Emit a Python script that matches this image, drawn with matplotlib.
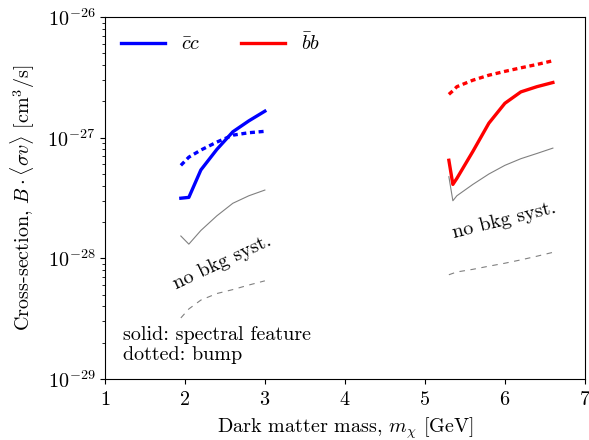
import matplotlib
matplotlib.use("Agg")
import matplotlib.pyplot as plt
import numpy as np

plt.rcParams['font.family'] = 'serif'
plt.rcParams['font.serif'] = ['cmr10']
plt.rcParams['mathtext.fontset'] = 'cm'
plt.rcParams['axes.formatter.use_mathtext'] = True
plt.rcParams['axes.unicode_minus'] = False

FS = 14.5

# cc channel
cc_mass = [1.95, 2.05, 2.2, 2.4, 2.6, 2.8, 3.0]
cc_feature = [3.15e-28, 3.2e-28, 5.4e-28, 8.0e-28, 1.12e-27, 1.38e-27, 1.66e-27]
cc_bump = [5.9e-28, 6.9e-28, 7.9e-28, 9.2e-28, 1.05e-27, 1.10e-27, 1.13e-27]
cc_nosyst = [1.53e-28, 1.31e-28, 1.7e-28, 2.25e-28, 2.86e-28, 3.3e-28, 3.68e-28]
cc_nosyst_bump = [3.2e-29, 3.8e-29, 4.5e-29, 5.1e-29, 5.5e-29, 6.0e-29, 6.5e-29]

# bb channel
bb_mass = [5.3, 5.35, 5.4, 5.6, 5.8, 6.0, 6.2, 6.4, 6.6]
bb_feature = [6.5e-28, 4.1e-28, 4.6e-28, 7.7e-28, 1.32e-27, 1.93e-27, 2.4e-27, 2.65e-27, 2.87e-27]
bb_bump = [2.29e-27, 2.45e-27, 2.65e-27, 3.0e-27, 3.3e-27, 3.55e-27, 3.8e-27, 4.05e-27, 4.35e-27]
bb_nosyst = [4.75e-28, 3.0e-28, 3.3e-28, 4.1e-28, 5.0e-28, 5.9e-28, 6.7e-28, 7.4e-28, 8.2e-28]
bb_nosyst_bump = [7.3e-29, 7.5e-29, 7.7e-29, 8.1e-29, 8.6e-29, 9.1e-29, 9.7e-29, 1.04e-28, 1.12e-28]

fig = plt.figure(figsize=(5.89, 4.4), dpi=100)
ax = fig.add_axes([0.178, 0.139, 0.815, 0.822])

dot = (0, (1.5, 1.1))
ax.plot(cc_mass, cc_feature, color='blue', lw=2.4, label=r'$\bar{c}c$')
ax.plot(cc_mass, cc_bump, color='blue', lw=2.4, ls=dot)
ax.plot(bb_mass, bb_feature, color='red', lw=2.4, label=r'$\bar{b}b$')
ax.plot(bb_mass, bb_bump, color='red', lw=2.4, ls=dot)

ax.plot(cc_mass, cc_nosyst, color='grey', lw=0.8)
ax.plot(cc_mass, cc_nosyst_bump, color='grey', lw=0.8, ls=(0, (5, 5)))
ax.plot(bb_mass, bb_nosyst, color='grey', lw=0.8)
ax.plot(bb_mass, bb_nosyst_bump, color='grey', lw=0.8, ls=(0, (5, 5)))

ax.text(2.47, 9.3e-29, 'no bkg syst.', rotation=25, ha='center', va='center', fontsize=FS)
ax.text(5.99, 2.05e-28, 'no bkg syst.', rotation=14, ha='center', va='center', fontsize=FS)
ax.text(0.037, 0.042, 'solid: spectral feature\ndotted: bump', transform=ax.transAxes,
        fontsize=FS, ha='left', va='bottom', linespacing=1.15)

ax.set_yscale('log')
ax.set_xlim(1, 7)
ax.set_ylim(1e-29, 1e-26)
ax.set_xlabel(r'Dark matter mass, $m_\chi$ [GeV]', fontsize=FS, labelpad=5)
ax.set_ylabel(r'Cross-section, $B\cdot\langle\sigma v\rangle$ [cm$^3$/s]', fontsize=FS, labelpad=7)
ax.tick_params(labelsize=FS)
ax.tick_params(axis='x', pad=5)

ax.legend(loc='upper left', ncol=2, frameon=False, fontsize=FS, handlelength=2.2,
          handletextpad=0.8, columnspacing=2.0, borderaxespad=0.4)

fig.savefig('out.png', dpi=100)
